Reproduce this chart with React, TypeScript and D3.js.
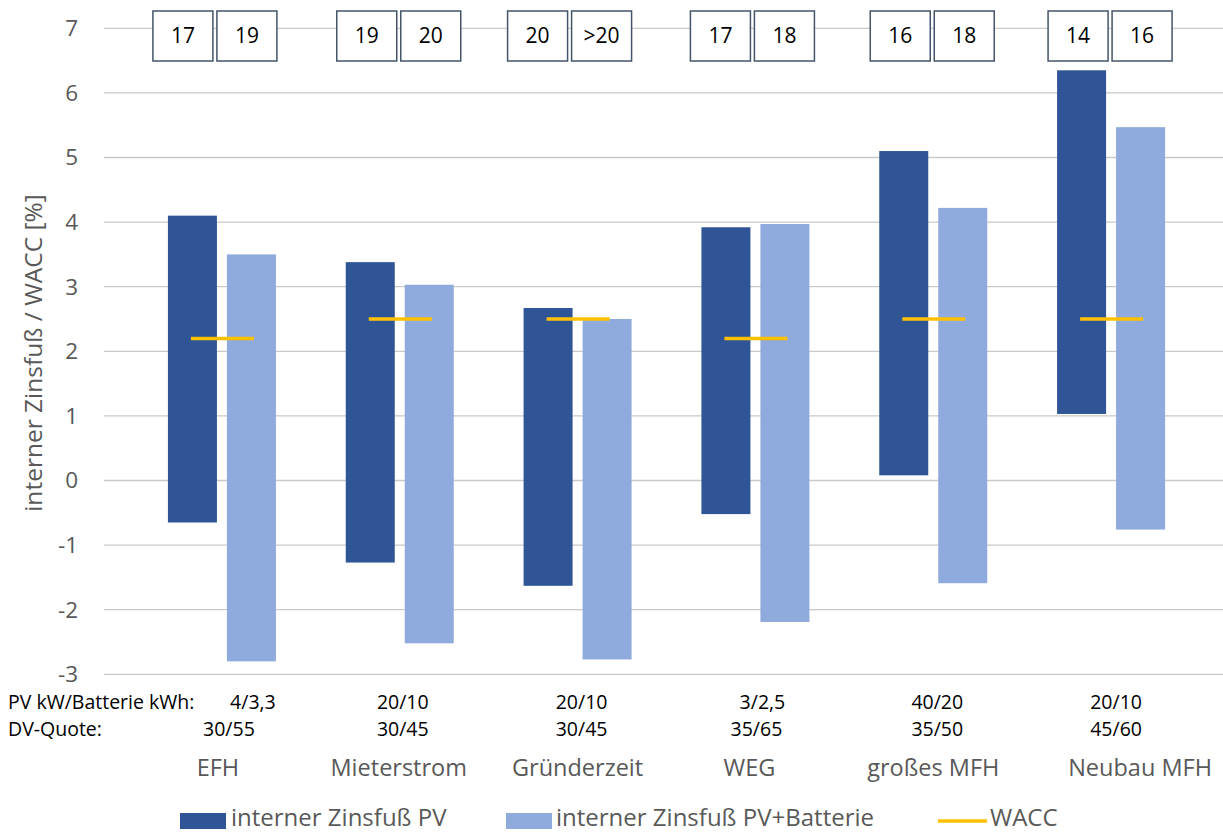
import React from "react";
import * as d3 from "d3";

document.body.style.margin = "0";

// data
const categories = ["EFH", "Mieterstrom", "Gründerzeit", "WEG", "großes MFH", "Neubau MFH"];
const pvLow = [-0.65, -1.27, -1.63, -0.52, 0.08, 1.03];
const pvHigh = [4.1, 3.38, 2.67, 3.92, 5.1, 6.35];
const batLow = [-2.8, -2.52, -2.77, -2.19, -1.59, -0.76];
const batHigh = [3.5, 3.03, 2.5, 3.97, 4.22, 5.47];
const wacc = [2.2, 2.5, 2.5, 2.2, 2.5, 2.5];
const boxPv = ["17", "19", "20", "17", "16", "14"];
const boxBat = ["19", "20", ">20", "18", "18", "16"];
const pvBat = ["4/3,3", "20/10", "20/10", "3/2,5", "40/20", "20/10"];
const dvQuote = ["30/55", "30/45", "30/45", "35/65", "35/50", "45/60"];
const yTicks = [-3, -2, -1, 0, 1, 2, 3, 4, 5, 6, 7];

// hand-placed annotation nudges (px) as in the original text boxes
const boxDx = [-7, -1, -8, -3, -1, -1];
const pvBatDx = [31, 3, 4, 7, 4, 5];
const dvDx = [7, 3, 4, 1, 4, 5];
const catDx = [-4, -1, 0, -6, 0, 29];

const W = 1223;
const H = 834;
const FONT = "'Open Sans', Lato, sans-serif";
const DARK = "#2F5597";
const LIGHT = "#8FAADC";
const GOLD = "#FFC000";
const GRAY = "#595959";

export default function App() {
  const x = d3.scaleBand<string>().domain(categories).range([133, 1200]).padding(0);
  const y = d3.scaleLinear().domain([-3, 7]).range([674.3, 28.3]);
  const cx = (i: number) => (x(categories[i]) as number) + x.bandwidth() / 2;

  return (
    <svg width={W} height={H} style={{ display: "block", background: "#fff" }} fontFamily={FONT}>
      {/* gridlines */}
      {yTicks.map((t) => (
        <line key={t} x1={104} x2={W} y1={y(t)} y2={y(t)} stroke="#C9C9C9" strokeWidth={1.3} />
      ))}
      {/* y tick labels */}
      {yTicks.map((t) => (
        <text key={"l" + t} x={78} y={y(t)} dy="0.35em" textAnchor="end" fontSize={22.5} fill={GRAY}>
          {t}
        </text>
      ))}
      <text
        transform="translate(33,353) rotate(-90)"
        textAnchor="middle"
        dy="0.35em"
        fontSize={24.5}
        fill={GRAY}
      >
        interner Zinsfuß / WACC [%]
      </text>

      {/* floating bars */}
      {categories.map((c, i) => (
        <g key={c}>
          <rect x={cx(i) - 54} width={49} y={y(pvHigh[i])} height={y(pvLow[i]) - y(pvHigh[i])} fill={DARK} />
          <rect x={cx(i) + 5} width={49} y={y(batHigh[i])} height={y(batLow[i]) - y(batHigh[i])} fill={LIGHT} />
          <line x1={cx(i) - 31} x2={cx(i) + 32} y1={y(wacc[i])} y2={y(wacc[i])} stroke={GOLD} strokeWidth={3.5} />
        </g>
      ))}

      {/* payback boxes */}
      {categories.map((c, i) => (
        <g key={"b" + c}>
          {[boxPv[i], boxBat[i]].map((v, j) => {
            const bx = cx(i) + boxDx[i] + (j === 0 ? -62 : 2);
            return (
              <g key={j}>
                <rect x={bx} y={11} width={60} height={50} fill="#fff" stroke="#44546A" strokeWidth={1.5} />
                <text x={bx + 30} y={36} dy="0.35em" textAnchor="middle" fontSize={21} fill="#000">
                  {v}
                </text>
              </g>
            );
          })}
        </g>
      ))}

      {/* bottom annotation rows */}
      <text x={8} y={702} dy="0.35em" fontSize={19.5} fill="#000">PV kW/Batterie kWh:</text>
      <text x={8} y={729} dy="0.35em" fontSize={19.5} fill="#000">DV-Quote:</text>
      {categories.map((c, i) => (
        <g key={"a" + c}>
          <text x={cx(i) + pvBatDx[i]} y={702} dy="0.35em" textAnchor="middle" fontSize={19.5} fill="#000">
            {pvBat[i]}
          </text>
          <text x={cx(i) + dvDx[i]} y={729} dy="0.35em" textAnchor="middle" fontSize={19.5} fill="#000">
            {dvQuote[i]}
          </text>
          <text x={cx(i) + catDx[i]} y={768} dy="0.35em" textAnchor="middle" fontSize={23.5} fill={GRAY}>
            {c}
          </text>
        </g>
      ))}

      {/* legend */}
      <g>
        <rect x={180} y={813} width={46} height={16} fill={DARK} />
        <text x={231} y={818} dy="0.35em" fontSize={24} fill={GRAY}>interner Zinsfuß PV</text>
        <rect x={506} y={813} width={46} height={16} fill={LIGHT} />
        <text x={556} y={818} dy="0.35em" fontSize={24} fill={GRAY}>interner Zinsfuß PV+Batterie</text>
        <line x1={938} x2={987} y1={821} y2={821} stroke={GOLD} strokeWidth={3.5} />
        <text x={990} y={818} dy="0.35em" fontSize={24} fill={GRAY}>WACC</text>
      </g>
    </svg>
  );
}
